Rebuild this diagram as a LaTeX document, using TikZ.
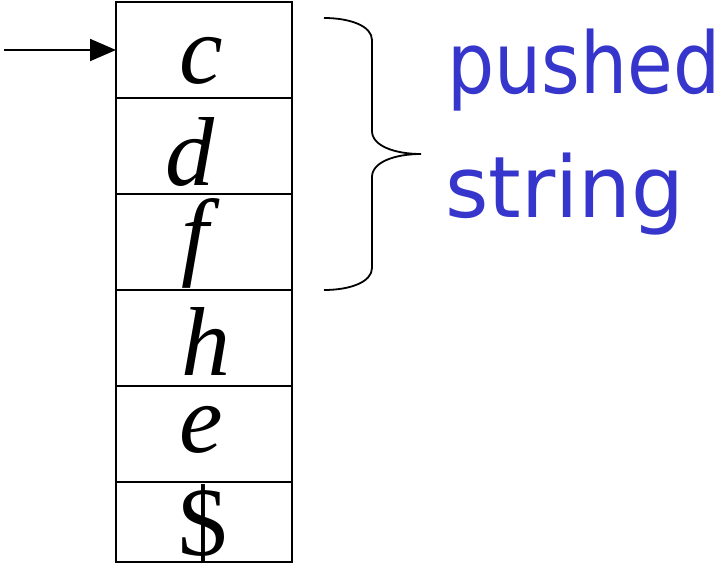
\documentclass[tikz,border=0pt]{standalone}
\usepackage{fontspec}
\setmainfont{Liberation Serif}
\newfontfamily\labelfont{DejaVu Sans}
\usetikzlibrary{arrows.meta}
\definecolor{labelblue}{HTML}{3636CC}
\begin{document}
\begin{tikzpicture}[x=1pt,y=-1pt,
  cell/.style={draw=black,line width=2pt,minimum width=176pt,inner sep=0pt,outer sep=0pt},
  letter/.style={anchor=base,inner sep=0pt,font=\fontsize{98}{98}\selectfont\itshape},
  sym/.style={anchor=base,inner sep=0pt,font=\fontsize{98}{98}\selectfont},
  lbl/.style={anchor=base west,inner sep=0pt,text=labelblue,font=\fontsize{85}{85}\selectfont\labelfont}]
\useasboundingbox (0,0) rectangle (721,563);
% cells
\node[cell,minimum height=96pt] (c1) at (204,50) {};
\node[cell,minimum height=96pt] (c2) at (204,146) {};
\node[cell,minimum height=96pt] (c3) at (204,242) {};
\node[cell,minimum height=96pt] (c4) at (204,338) {};
\node[cell,minimum height=96pt] (c5) at (204,434) {};
\node[cell,minimum height=80pt] (c6) at (204,522) {};
% letters
\node[letter] (lc) at (201,83) {c};
\node[letter] (ld) at (190,185) {d};
\node[letter] (lf) at (195,267) {f};
\node[letter] (lh) at (206,375) {h};
\node[letter] (le) at (201,452) {e};
\node[sym] (ld2) at (203,555) {\$};
% pointer arrow
\coordinate (start) at (4,50);
\draw[line width=2pt,-{Triangle[length=26pt,width=22pt]}] (start) -- (c1.west);
% brace
\coordinate (bt) at (324,18);
\coordinate (bb) at (324,290);
\coordinate (tip) at (421,154);
\draw[line width=1.8pt] (bt) .. controls (350,18) and (372,26) .. (372,40)
  -- (372,131) .. controls (372,146) and (395,154) .. (tip)
  .. controls (395,154) and (372,162) .. (372,177)
  -- (372,268) .. controls (372,282) and (350,290) .. (bb);
% label
\node[lbl] (p1) at (447,93) {\scalebox{0.875}[1]{pushed}};
\node[lbl] (p2) at (445,217) {\scalebox{0.98}[1]{string}};
\end{tikzpicture}
\end{document}
